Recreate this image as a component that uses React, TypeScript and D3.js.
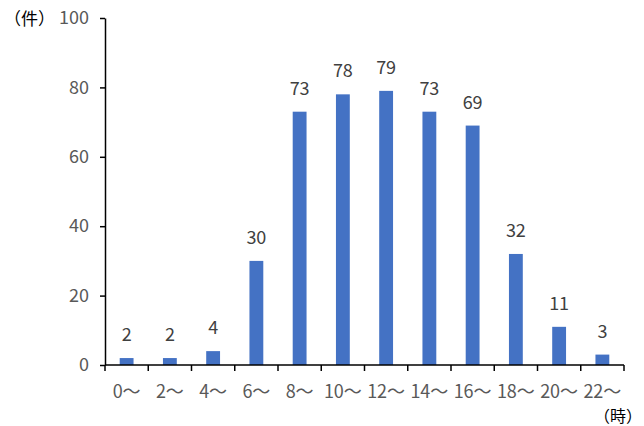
import React, { useEffect, useRef } from 'react';
import * as d3 from 'd3';

const categories = ['0～', '2～', '4～', '6～', '8～', '10～', '12～', '14～', '16～', '18～', '20～', '22～'];
const counts = [2, 2, 4, 30, 73, 78, 79, 73, 69, 32, 11, 3];
const yTicks = [0, 20, 40, 60, 80, 100];

const App = () => {
  const ref = useRef<SVGSVGElement>(null);

  const width = 644;
  const height = 426;
  const margin = { top: 18, right: 20, bottom: 61, left: 105 };
  const font = '"Noto Sans CJK JP", "Noto Sans", sans-serif';

  useEffect(() => {
    document.body.style.margin = '0';
    const svg = d3.select(ref.current);
    svg.selectAll('*').remove();

    const x = d3.scaleBand<string>()
      .domain(categories)
      .range([margin.left, width - margin.right])
      .paddingInner(0.68)
      .paddingOuter(0.34);
    const y = d3.scaleLinear().domain([0, 100]).range([height - margin.bottom, margin.top]);

    // bars
    svg.append('g')
      .selectAll('rect')
      .data(counts)
      .enter()
      .append('rect')
      .attr('x', (d, i) => x(categories[i])!)
      .attr('width', x.bandwidth())
      .attr('y', d => y(d))
      .attr('height', d => y(0) - y(d))
      .attr('fill', '#4472C4');

    // value labels
    svg.append('g')
      .selectAll('text')
      .data(counts)
      .enter()
      .append('text')
      .attr('x', (d, i) => x(categories[i])! + x.bandwidth() / 2)
      .attr('y', d => y(d) - 17)
      .attr('text-anchor', 'middle')
      .attr('font-family', font)
      .attr('font-size', 18)
      .attr('fill', '#404040')
      .text(d => d);

    // y axis
    const yAxis = svg.append('g')
      .attr('transform', `translate(${margin.left},0)`)
      .call(d3.axisLeft(y).tickValues(yTicks).tickSize(5).tickSizeOuter(0).tickPadding(11));
    yAxis.select('.domain').attr('stroke', '#000').attr('stroke-width', 1.5);
    yAxis.selectAll('.tick line').attr('stroke', '#000').attr('stroke-width', 1.5);
    yAxis.selectAll('.tick text')
      .attr('font-family', font)
      .attr('font-size', 18)
      .attr('fill', '#595959');

    // x axis with ticks at band boundaries
    const xAxisG = svg.append('g').attr('transform', `translate(0,${y(0)})`);
    xAxisG.append('line')
      .attr('x1', margin.left)
      .attr('x2', width - margin.right)
      .attr('stroke', '#000')
      .attr('stroke-width', 1.5);
    const step = x.step();
    const bounds = d3.range(categories.length + 1).map(i => margin.left + i * step);
    xAxisG.selectAll('.xt')
      .data(bounds)
      .enter()
      .append('line')
      .attr('x1', d => d)
      .attr('x2', d => d)
      .attr('y1', 0)
      .attr('y2', 6)
      .attr('stroke', '#000')
      .attr('stroke-width', 1.5);
    xAxisG.selectAll('.xl')
      .data(categories)
      .enter()
      .append('text')
      .attr('x', d => x(d)! + x.bandwidth() / 2)
      .attr('y', 33)
      .attr('text-anchor', 'middle')
      .attr('font-family', font)
      .attr('font-size', 18)
      .attr('fill', '#595959')
      .text(d => d);

    // unit labels
    svg.append('text')
      .attr('x', 4)
      .attr('y', 25)
      .attr('font-family', font)
      .attr('font-size', 17)
      .attr('fill', '#000')
      .text('（件）');
    svg.append('text')
      .attr('x', 642)
      .attr('y', 422)
      .attr('text-anchor', 'end')
      .attr('font-family', font)
      .attr('font-size', 16)
      .attr('fill', '#000')
      .text('（時）');
  }, []);

  return <svg ref={ref} width={width} height={height} style={{ display: 'block', background: '#fff' }} />;
};

export default App;
